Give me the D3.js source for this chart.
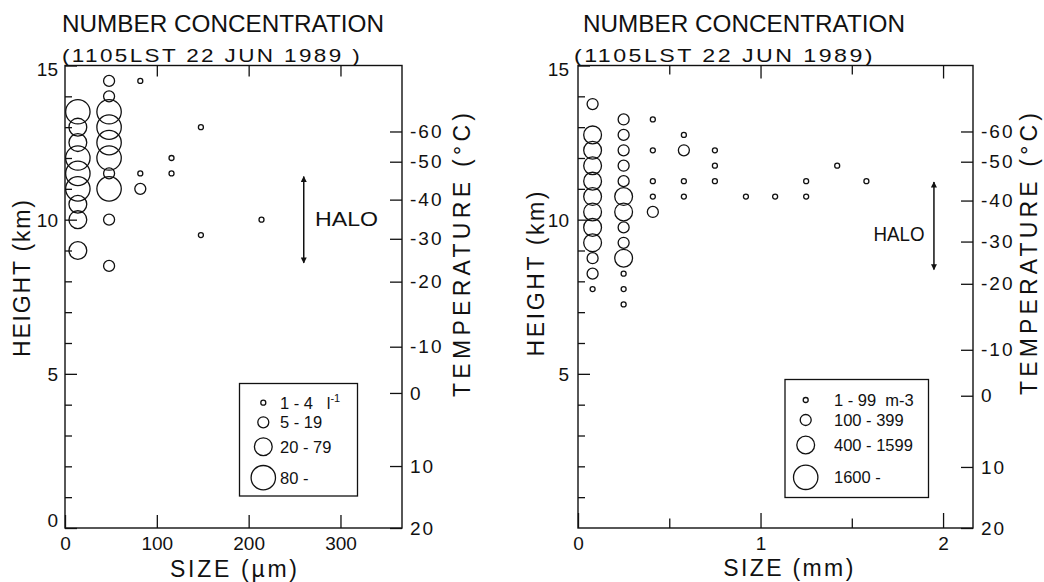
<!DOCTYPE html>
<html><head><meta charset="utf-8">
<script src="https://cdn.jsdelivr.net/npm/d3@7"></script>
<style>
html,body{margin:0;padding:0;background:#fff;}
svg{display:block;}
text{font-family:"Liberation Sans", Arial, sans-serif; fill:#111;}
</style></head><body>
<svg id="chart" width="1044" height="582"></svg>
<script>
// ---------------- data ----------------
const titleLine1 = "NUMBER CONCENTRATION";
const titleLine2Left = "(1105LST 22 JUN 1989 )";
const titleLine2Right = "(1105LST 22 JUN 1989)";
const heightLabel = "HEIGHT (km)";
const tempLabel = "TEMPERATURE (°C)";
const sizeLabelLeft = "SIZE (µm)";
const sizeLabelRight = "SIZE (mm)";
const haloLabel = "HALO";

const heightTicksMajorLeft = [0, 5, 10, 15];
const heightTicksMajorRight = [5, 10, 15];
const heightTicksMinor = [1, 2, 3, 4, 6, 7, 8, 9, 11, 12, 13, 14];

const tempTickLabels = [-60, -50, -40, -30, -20, -10, 0, 10, 20];
const tempHeightsLeft = [12.86, 11.88, 10.65, 9.38, 7.99, 5.88, 4.38, 2.01, 0];
const tempHeightsRight = [12.86, 11.88, 10.62, 9.29, 7.92, 5.78, 4.29, 1.98, 0];

const sizeTicksLeft = [0, 100, 200, 300];
const sizeTicksRightMajor = [0, 1, 2];
const sizeTicksRightMinor = [0.5, 1.5];

// left panel: size (µm), height (km), concentration class (0:1-4, 1:5-19, 2:20-79, 3:80-)
const leftSizes = [14,14,14,14,14,14,14,14,14,
                   48,48,48,48,48,48,48,48,48,48,
                   82,82,82, 116,116, 148,148, 214];
const leftHeights = [13.5,13.0,12.5,12.0,11.5,11.0,10.5,10.0,9.0,
                     14.5,14.0,13.5,13.0,12.5,12.0,11.5,11.0,10.0,8.5,
                     14.5,11.5,11.0, 12.0,11.5, 13.0,9.5, 10.0];
const leftClasses = [3,2,2,3,3,3,2,2,2,
                     1,1,3,3,3,3,1,3,1,1,
                     0,0,1, 0,0, 0,0, 0];

// right panel: size (mm), height (km), class (0:1-99, 1:100-399, 2:400-1599, 3:1600-)
const rightSizes = [0.08,0.08,0.08,0.08,0.08,0.08,0.08,0.08,0.08,0.08,0.08,0.08,
                    0.25,0.25,0.25,0.25,0.25,0.25,0.25,0.25,0.25,0.25,0.25,0.25,0.25,
                    0.41,0.41,0.41,0.41,0.41,
                    0.58,0.58,0.58,0.58,
                    0.75,0.75,0.75,
                    0.92, 1.08, 1.25,1.25, 1.42, 1.58];
const rightHeights = [13.75,12.75,12.25,11.75,11.25,10.75,10.25,9.75,9.25,8.75,8.25,7.75,
                      13.25,12.75,12.25,11.75,11.25,10.75,10.25,9.75,9.25,8.75,8.25,7.75,7.25,
                      13.25,12.25,11.25,10.75,10.25,
                      12.75,12.25,11.25,10.75,
                      12.25,11.75,11.25,
                      10.75, 10.75, 11.25,10.75, 11.75, 11.25];
const rightClasses = [1,2,2,2,2,2,2,2,2,1,1,0,
                      1,1,1,1,1,2,2,1,1,2,0,0,0,
                      0,0,0,0,1,
                      0,1,0,0,
                      0,0,0,
                      0, 0, 0,0, 0, 0];

const legendLabelsLeft = ["1 - 4", "5 - 19", "20 - 79", "80 -"];
const legendLabelsRight = ["1 - 99  m-3", "100 - 399", "400 - 1599", "1600 -"];

const haloLeft = [8.6, 11.4];   // km
const haloSizeLeft = 260;       // µm
const haloRight = [8.38, 11.22];
const haloSizeRight = 1.95;     // mm

// ---------------- drawing ----------------
const svg = d3.select("#chart");
const ink = "#111";
const radii = [2.5, 5.5, 8.9, 12.2];

const defs = svg.append("defs");
["start","end"].forEach(k => {
  defs.append("marker").attr("id", "arr-" + k)
    .attr("markerUnits", "userSpaceOnUse")
    .attr("viewBox", "0 0 10 10").attr("refX", 9).attr("refY", 5)
    .attr("markerWidth", 7).attr("markerHeight", 6)
    .attr("orient", k === "end" ? "auto" : "auto-start-reverse")
    .append("path").attr("d", "M0,0 L10,5 L0,10 Z").attr("fill", ink);
});

function styleAxis(g, fs) {
  g.select(".domain").remove();
  g.selectAll(".tick line").attr("stroke", ink).attr("stroke-width", 1.3);
  g.selectAll(".tick text").attr("fill", ink).attr("font-size", fs)
    .attr("font-family", '"Liberation Sans", Arial, sans-serif');
}

function drawPanel(cfg) {
  const g = svg.append("g");
  const x = d3.scaleLinear().domain(cfg.xDomain).range([cfg.x0, cfg.x1]);
  const y = d3.scaleLinear().domain([0, 15]).range([cfg.yBottom, cfg.yTop]);

  // minor height ticks
  g.append("g").attr("transform", `translate(${cfg.x0},0)`)
    .call(d3.axisLeft(y).tickValues(heightTicksMinor).tickSizeInner(-7).tickSizeOuter(0).tickFormat(""))
    .call(a => styleAxis(a, 19));
  // major height ticks with labels
  const gy = g.append("g").attr("transform", `translate(${cfg.x0},0)`)
    .call(d3.axisLeft(y).tickValues(cfg.yMajor).tickSizeInner(-12).tickSizeOuter(0)
      .tickPadding(cfg.yPad).tickFormat(d3.format("d")))
    .call(a => styleAxis(a, 19));
  gy.selectAll(".tick text").attr("dy", d => d === 0 ? "-0.1em" : d === 15 ? "0.55em" : "0.34em");

  // temperature axis (right)
  const gt = g.append("g").attr("transform", `translate(${cfg.x1},0)`)
    .call(d3.axisRight(y).tickValues(cfg.tempHeights).tickSizeInner(-12).tickSizeOuter(0)
      .tickPadding(8).tickFormat((d, i) => String(tempTickLabels[i])))
    .call(a => styleAxis(a, 19));
  gt.selectAll(".tick text").attr("letter-spacing", 2);

  // bottom size axis
  g.append("g").attr("transform", `translate(0,${cfg.yBottom})`)
    .call(d3.axisBottom(x).tickValues(cfg.xMajor).tickSizeInner(-cfg.botMajorLen).tickSizeOuter(0)
      .tickPadding(9).tickFormat(d3.format("d")))
    .call(a => styleAxis(a, 19));
  if (cfg.xMinor) {
    g.append("g").attr("transform", `translate(0,${cfg.yBottom})`)
      .call(d3.axisBottom(x).tickValues(cfg.xMinor).tickSizeInner(-9.5).tickSizeOuter(0).tickFormat(""))
      .call(a => styleAxis(a, 19));
    g.append("g").attr("transform", `translate(0,${cfg.yTop})`)
      .call(d3.axisTop(x).tickValues(cfg.xMinor).tickSizeInner(-9).tickSizeOuter(0).tickFormat(""))
      .call(a => styleAxis(a, 19));
  }
  // top ticks
  g.append("g").attr("transform", `translate(0,${cfg.yTop})`)
    .call(d3.axisTop(x).tickValues(cfg.xMajor.filter(v => v > 0)).tickSizeInner(-cfg.topMajorLen).tickSizeOuter(0).tickFormat(""))
    .call(a => styleAxis(a, 19));

  // frame
  g.append("rect").attr("x", cfg.x0).attr("y", cfg.yTop)
    .attr("width", cfg.x1 - cfg.x0).attr("height", cfg.yBottom - cfg.yTop)
    .attr("fill", "none").attr("stroke", ink).attr("stroke-width", 1.4);

  // data circles
  g.append("g").selectAll("circle").data(d3.range(cfg.sizes.length)).join("circle")
    .attr("cx", i => x(cfg.sizes[i])).attr("cy", i => y(cfg.heights[i]))
    .attr("r", i => radii[cfg.classes[i]])
    .attr("fill", "none").attr("stroke", ink).attr("stroke-width", 1.3);

  // halo arrow
  g.append("line").attr("x1", x(cfg.haloSize)).attr("x2", x(cfg.haloSize))
    .attr("y1", y(cfg.halo[0])).attr("y2", y(cfg.halo[1]))
    .attr("stroke", ink).attr("stroke-width", 1.5)
    .attr("marker-start", "url(#arr-start)").attr("marker-end", "url(#arr-end)");
  g.append("text").attr("x", cfg.haloTextX).attr("y", cfg.haloTextY)
    .attr("font-size", 20).attr("textLength", cfg.haloTextLen).attr("lengthAdjust", "spacingAndGlyphs")
    .text(haloLabel);

  // titles
  g.append("text").attr("x", cfg.t1x).attr("y", 31.5).attr("font-size", 23)
    .attr("textLength", 322).attr("lengthAdjust", "spacingAndGlyphs").text(titleLine1);
  g.append("text").attr("x", cfg.t2x).attr("y", 62).attr("font-size", 19).attr("letter-spacing", 2)
    .attr("textLength", cfg.t2len).attr("lengthAdjust", "spacingAndGlyphs").text(cfg.title2);

  // axis titles
  g.append("text").attr("transform", `translate(${cfg.hx},${cfg.hy}) rotate(-90)`)
    .attr("text-anchor", "middle").attr("font-size", 23)
    .attr("textLength", cfg.hlen).attr("lengthAdjust", "spacing").text(heightLabel);
  g.append("text").attr("transform", `translate(${cfg.tx},${cfg.ty}) rotate(-90)`)
    .attr("text-anchor", "middle").attr("font-size", 23)
    .attr("textLength", cfg.tlen).attr("lengthAdjust", "spacing").text(tempLabel);
  g.append("text").attr("x", cfg.sx).attr("y", cfg.sy)
    .attr("text-anchor", "middle").attr("font-size", 23)
    .attr("textLength", cfg.slen).attr("lengthAdjust", "spacing").text(cfg.sizeLabel);

  // legend
  const L = cfg.legend;
  const lg = g.append("g");
  lg.append("rect").attr("x", L.x).attr("y", L.y).attr("width", L.w).attr("height", L.h)
    .attr("fill", "#fff").attr("stroke", ink).attr("stroke-width", 1.3);
  lg.selectAll("circle").data(d3.range(4)).join("circle")
    .attr("cx", L.cx).attr("cy", i => L.rows[i]).attr("r", i => radii[i])
    .attr("fill", "none").attr("stroke", ink).attr("stroke-width", 1.3);
  const lt = lg.selectAll("text").data(d3.range(4)).join("text")
    .attr("x", L.tx).attr("y", i => L.rows[i] + 6).attr("font-size", 16.5)
    .style("white-space", "pre").text(i => L.labels[i]);
  if (L.unit) {
    lt.filter(i => i === 0).append("tspan").text("   l");
    lt.filter(i => i === 0).append("tspan").attr("dy", -7).attr("font-size", 11).text("-1");
  }
}

drawPanel({
  x0: 65, x1: 402, yTop: 65.5, yBottom: 528, xDomain: [0, 367],
  yMajor: heightTicksMajorLeft, yPad: 7, tempHeights: tempHeightsLeft,
  xMajor: sizeTicksLeft, xMinor: null, botMajorLen: 13, topMajorLen: 11,
  sizes: leftSizes, heights: leftHeights, classes: leftClasses,
  halo: haloLeft, haloSize: haloSizeLeft, haloTextX: 315, haloTextY: 225.5, haloTextLen: 63,
  t1x: 62, t2x: 62, t2len: 300, title2: titleLine2Left,
  hx: 30, hy: 278.5, hlen: 157, tx: 469.5, ty: 255, tlen: 284,
  sx: 233.5, sy: 576.5, slen: 127, sizeLabel: sizeLabelLeft,
  legend: { x: 239.5, y: 383.5, w: 118, h: 112.5, cx: 263.3, tx: 280,
            rows: [402.7, 422.3, 446.7, 477.7], labels: legendLabelsLeft, unit: true }
});

drawPanel({
  x0: 578, x1: 973, yTop: 65.5, yBottom: 528, xDomain: [0, 2.164],
  yMajor: heightTicksMajorRight, yPad: 9, tempHeights: tempHeightsRight,
  xMajor: sizeTicksRightMajor, xMinor: sizeTicksRightMinor, botMajorLen: 15, topMajorLen: 13,
  sizes: rightSizes, heights: rightHeights, classes: rightClasses,
  halo: haloRight, haloSize: haloSizeRight, haloTextX: 873.5, haloTextY: 240.5, haloTextLen: 51,
  t1x: 583, t2x: 574, t2len: 301, title2: titleLine2Right,
  hx: 544, hy: 274, hlen: 165, tx: 1037, ty: 254, tlen: 282,
  sx: 788.3, sy: 576, slen: 130, sizeLabel: sizeLabelRight,
  legend: { x: 785, y: 379.5, w: 143.5, h: 118, cx: 805.7, tx: 834,
            rows: [400, 420, 445, 477.3], labels: legendLabelsRight, unit: false }
});
</script>
</body></html>
